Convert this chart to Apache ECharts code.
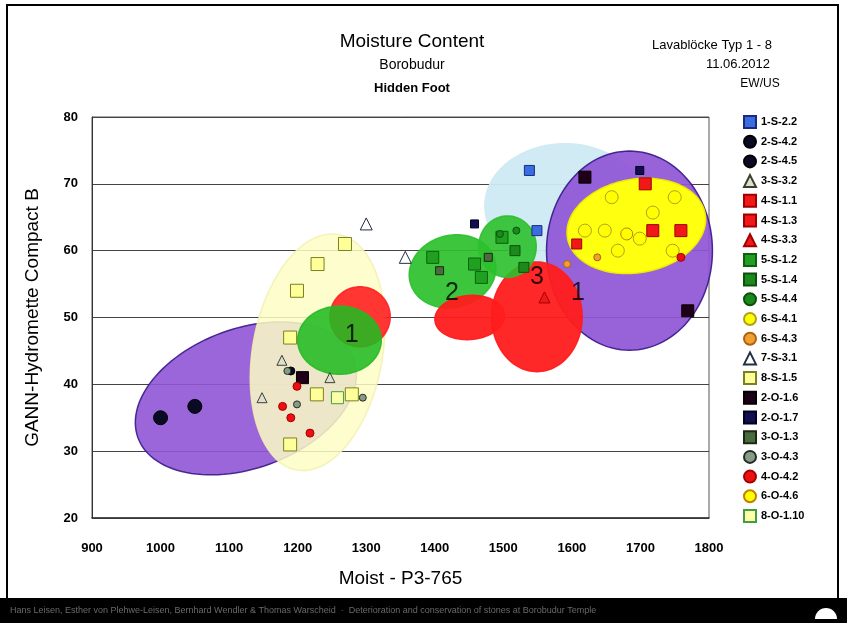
<!DOCTYPE html>
<html><head><meta charset="utf-8">
<script src="https://cdn.jsdelivr.net/npm/echarts@6/dist/echarts.min.js"></script>
<style>html,body{margin:0;padding:0;background:#fff}#c{width:847px;height:623px}</style>
</head><body><div id="c"></div>
<script>
// ---- axis ticks ----
const xTicks = [900,1000,1100,1200,1300,1400,1500,1600,1700,1800];
const yTicks = [20,30,40,50,60,70,80];

// ---- series (legend order) ----
const seriesNames = ['1-S-2.2','2-S-4.2','2-S-4.5','3-S-3.2','4-S-1.1','4-S-1.3','4-S-3.3','5-S-1.2','5-S-1.4','5-S-4.4','6-S-4.1','6-S-4.3','7-S-3.1','8-S-1.5','2-O-1.6','2-O-1.7','3-O-1.3','3-O-4.3','4-O-4.2','6-O-4.6','8-O-1.10'];
const d_1S22 = [[1538,72],[1549,63]];
const d_2S42 = [[1000,35],[1050,36.7]];
const d_2S45 = [[1190,42]];
const d_3S32 = [[1148,38],[1177,43.6],[1247,41]];
const d_4S11 = [[1707,70],[1718,63],[1759,63]];
const d_4S13 = [[1607,61]];
const d_4S33 = [[1560,53]];
const d_5S12 = [[1397,59],[1458,58],[1468,56],[1498,62]];
const d_5S14 = [[1517,60],[1530,57.5]];
const d_5S44 = [[1519,63],[1495,62.5]];
const d_6S41 = [[1658,68],[1750,68],[1718,65.7],[1619,63],[1648,63],[1699,61.8],[1667,60],[1747,60]];
const d_6S43 = [[1637,59],[1593,58]];
const d_7S31 = [[1300,64],[1357,59]];
const d_8S15 = [[1269,61],[1229,58],[1199,54],[1189,47],[1228,38.5],[1279,38.5],[1189,31]];
const d_2O16 = [[1619,71],[1769,51],[1207,41]];
const d_2O17 = [[1699,72],[1458,64]];
const d_3O13 = [[1407,57],[1478,59]];
const d_3O43 = [[1199,37],[1295,38],[1185,42]];
const d_4O42 = [[1199,39.7],[1178,36.7],[1190,35],[1218,32.7],[1759,59]];
const d_6O46 = [[1680,62.5]];
const d_8O110 = [[1258,38]];
const seriesData = [d_1S22,d_2S42,d_2S45,d_3S32,d_4S11,d_4S13,d_4S33,d_5S12,d_5S14,d_5S44,d_6S41,d_6S43,d_7S31,d_8S15,d_2O16,d_2O17,d_3O13,d_3O43,d_4O42,d_6O46,d_8O110];

// ---- group ellipses: centre x, centre y, semi-axis x (x units), semi-axis y (y units), tilt deg ----
const ellipseCx = [1590,1684,1694,1124.5,1229,1291,1261,1426,1451,1549,1506];
const ellipseCy = [66.7,60,63.7,37.9,44.8,50.1,46.6,56.9,50,50.1,60.6];
const ellipseRx = [117,121,102,167.6,94.8,44,61,64,51,66,42];
const ellipseRy = [9.3,14.9,7,10.45,17.9,4.5,5.1,5.4,3.3,8.2,4.6];
const ellipseTilt = [0,0,10,20,-10,0,0,15,5,0,0];

// ---- group numbers ----
const groupLabels = ['1','2','3','1'];
const groupLabelX = [1279,1425,1549,1609];
const groupLabelY = [47.3,53.6,56,53.7];

// ---- styles ----
const ellipseStyle = [
  {fill:'#cfeaf3',stroke:'#cfeaf3',op:0.95},
  {fill:'#8f55d6',stroke:'#3a1a8a',op:0.92},
  {fill:'#ffff10',stroke:'#f0ea00',op:1},
  {fill:'#8f55d6',stroke:'#3a1a8a',op:0.9},
  {fill:'#fdfdc4',stroke:'#f3f0b0',op:0.85},
  {fill:'#ff2020',stroke:'#ff2020',op:0.9},
  {fill:'#22bb22',stroke:'#22bb22',op:0.88},
  {fill:'#2cc02c',stroke:'#2cc02c',op:0.92},
  {fill:'#ff1c1c',stroke:'#ff1c1c',op:0.95},
  {fill:'#ff1c1c',stroke:'#ff1c1c',op:0.95},
  {fill:'#2cc02c',stroke:'#2cc02c',op:0.9}
];
const markerStyle = {
  '1-S-2.2':{symbol:'rect',size:10,color:'#3a6ee0',border:'#1a2a80'},
  '2-S-4.2':{symbol:'circle',size:14,color:'#0a0a25',border:'#000'},
  '2-S-4.5':{symbol:'circle',size:8,color:'#0a0a25',border:'#000'},
  '3-S-3.2':{symbol:'triangle',size:10,color:'#dde0d0',border:'#3a4030'},
  '4-S-1.1':{symbol:'rect',size:12,color:'#f01818',border:'#a00000'},
  '4-S-1.3':{symbol:'rect',size:10,color:'#f01818',border:'#a00000'},
  '4-S-3.3':{symbol:'triangle',size:11,color:'#f01818',border:'#a00000'},
  '5-S-1.2':{symbol:'rect',size:12,color:'#20a020',border:'#0d600d'},
  '5-S-1.4':{symbol:'rect',size:10,color:'#1a8a1a',border:'#0d500d'},
  '5-S-4.4':{symbol:'circle',size:7,color:'#1a8a1a',border:'#0d500d'},
  '6-S-4.1':{symbol:'circle',size:13,color:'#ffff00',border:'#b0a020'},
  '6-S-4.3':{symbol:'circle',size:7,color:'#f0a030',border:'#b06010'},
  '7-S-3.1':{symbol:'triangle',size:12,color:'#ffffff',border:'#203040'},
  '8-S-1.5':{symbol:'rect',size:13,color:'#ffff99',border:'#7a8020'},
  '2-O-1.6':{symbol:'rect',size:12,color:'#200018',border:'#000'},
  '2-O-1.7':{symbol:'rect',size:8,color:'#101050',border:'#000020'},
  '3-O-1.3':{symbol:'rect',size:8,color:'#4a6a40',border:'#1a2a10'},
  '3-O-4.3':{symbol:'circle',size:7,color:'#8a9a88',border:'#203020'},
  '4-O-4.2':{symbol:'circle',size:8,color:'#ee1010',border:'#a00000'},
  '6-O-4.6':{symbol:'circle',size:12,color:'#ffff00',border:'#c08000'},
  '8-O-1.10':{symbol:'rect',size:12,color:'#ffffaa',border:'#40a040'}
};

const FONT = 'Liberation Sans, Arial, sans-serif';
const chart = echarts.init(document.getElementById('c'), null, {renderer:'canvas'});

function ellipseItem(params, api){
  const c = api.coord([api.value(0), api.value(1)]);
  const sz = api.size([api.value(2), api.value(3)]);
  const rx = sz[0], ry = sz[1], a = api.value(4)*Math.PI/180;
  const pts = [];
  for (let i=0;i<120;i++){
    const t = i/120*2*Math.PI;
    const ex = rx*Math.cos(t), ey = ry*Math.sin(t);
    pts.push([c[0]+ex*Math.cos(a)+ey*Math.sin(a), c[1]-ex*Math.sin(a)+ey*Math.cos(a)]);
  }
  const st = ellipseStyle[params.dataIndex];
  return {type:'polygon', shape:{points:pts}, style:{fill:st.fill, stroke:st.stroke, lineWidth:1.5, opacity:st.op}};
}

const ellipseData = ellipseCx.map((v,i)=>[v, ellipseCy[i], ellipseRx[i], ellipseRy[i], ellipseTilt[i]]);

const series = [{
  type:'custom', name:'groups', renderItem: ellipseItem, data: ellipseData,
  encode:{x:0,y:1}, clip:false, z:2, silent:true
}];
seriesNames.forEach((n,i)=>{
  const s = markerStyle[n];
  series.push({
    type:'scatter', name:n, data: seriesData[i], z:3,
    symbol:s.symbol, symbolSize:s.size,
    itemStyle:{color:s.color, borderColor:s.border, borderWidth:1, opacity:1}
  });
});
series.push({
  type:'scatter', name:'labels', z:4, symbolSize:0, silent:true,
  data: groupLabels.map((t,i)=>({name:t, value:[groupLabelX[i], groupLabelY[i]]})),
  label:{show:true, position:'inside', formatter:p=>p.name, fontSize:25, color:'#000', fontFamily:FONT}
});

const option = {
  animation:false,
  backgroundColor:'#ffffff',
  grid:{left:92, right:138, top:117, bottom:105, show:true, borderColor:'#555', borderWidth:1, backgroundColor:'transparent'},
  xAxis:{
    type:'value', min:xTicks[0], max:xTicks[xTicks.length-1], interval:xTicks[1]-xTicks[0],
    name:'Moist - P3-765', nameLocation:'middle', nameGap:51,
    nameTextStyle:{fontSize:19, fontFamily:FONT, color:'#000'},
    axisLine:{lineStyle:{color:'#333', width:1.5}}, axisTick:{show:false},
    axisLabel:{fontSize:13, fontWeight:'bold', color:'#000', fontFamily:FONT, margin:24, formatter:v=>String(v)},
    splitLine:{show:false}
  },
  yAxis:{
    type:'value', min:yTicks[0], max:yTicks[yTicks.length-1], interval:yTicks[1]-yTicks[0],
    name:'GANN-Hydromette Compact B', nameLocation:'middle', nameGap:50,
    nameTextStyle:{fontSize:19, fontFamily:FONT, color:'#000'},
    axisLine:{show:true, lineStyle:{color:'#333', width:1}}, axisTick:{show:false},
    axisLabel:{fontSize:13, fontWeight:'bold', color:'#000', fontFamily:FONT, margin:14, formatter:v=>String(v)},
    splitLine:{show:true, lineStyle:{color:'#444', width:1.2}}
  },
  legend:{
    orient:'vertical', left:743, top:115, padding:0,
    itemWidth:12, itemHeight:12, itemGap:5.7,
    data: seriesNames,
    textStyle:{fontSize:11, fontWeight:'bold', color:'#000', fontFamily:FONT}
  },
  graphic:[
    {type:'rect', shape:{x:7,y:5,width:831,height:594}, style:{fill:'none', stroke:'#000', lineWidth:2}, z:10},
    {type:'rect', shape:{x:0,y:598,width:847,height:25}, style:{fill:'#000'}, z:10},
    {type:'text', left:10, top:606, z:11, style:{text:'Hans Leisen, Esther von Plehwe-Leisen, Bernhard Wendler & Thomas Warscheid  \u00b7  Deterioration and conservation of stones at Borobudur Temple', fill:'#6a6a6a', font:'9px '+FONT}},
    {type:'sector', shape:{cx:826, cy:619, r0:0, r:11, startAngle:Math.PI, endAngle:2*Math.PI}, style:{fill:'#fff'}, z:11},
    {type:'text', z:11, style:{text:'Moisture Content', x:412, y:42, textAlign:'center', textVerticalAlign:'middle', font:'19px '+FONT, fill:'#000'}},
    {type:'text', z:11, style:{text:'Borobudur', x:412, y:65, textAlign:'center', textVerticalAlign:'middle', font:'14px '+FONT, fill:'#000'}},
    {type:'text', z:11, style:{text:'Hidden Foot', x:412, y:88, textAlign:'center', textVerticalAlign:'middle', font:'bold 13px '+FONT, fill:'#000'}},
    {type:'text', z:11, style:{text:'Lavablöcke Typ 1 - 8', x:712, y:45, textAlign:'center', textVerticalAlign:'middle', font:'13px '+FONT, fill:'#000'}},
    {type:'text', z:11, style:{text:'11.06.2012', x:738, y:64, textAlign:'center', textVerticalAlign:'middle', font:'13px '+FONT, fill:'#000'}},
    {type:'text', z:11, style:{text:'EW/US', x:760, y:84, textAlign:'center', textVerticalAlign:'middle', font:'12px '+FONT, fill:'#000'}}
  ],
  series: series
};
chart.setOption(option);
</script>
</body></html>
